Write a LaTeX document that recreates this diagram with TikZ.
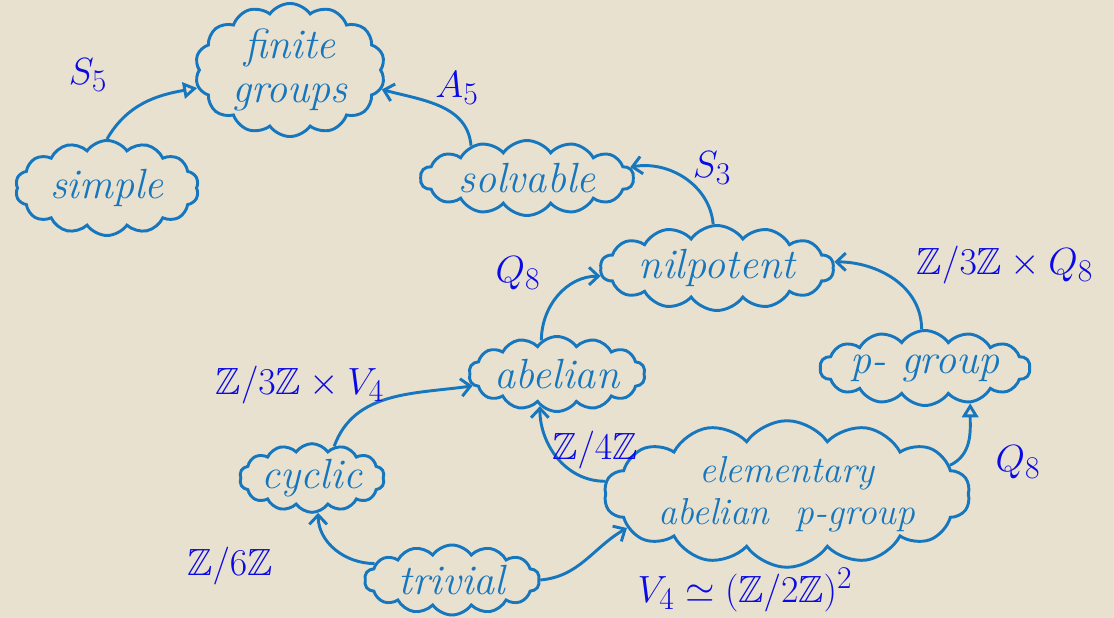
\documentclass[tikz,border=0pt]{standalone}
\usepackage{amsmath,amssymb}
\usepackage{fontspec}
\usetikzlibrary{shapes.symbols,arrows.meta}
\definecolor{bgc}{RGB}{233,225,207}
\definecolor{cloudblue}{RGB}{22,118,190}
\definecolor{labblue}{RGB}{10,10,230}
\newcommand{\biglab}[1]{\scalebox{1.3}{$#1$}}
\tikzset{
  grp/.style={cloud, cloud puffs=14, cloud puff arc=110, cloud ignores aspect,
    draw=cloudblue, line width=2.5pt, text=cloudblue, align=center, inner sep=0pt,
    font=\fontsize{36}{38}\selectfont\itshape},
  lab/.style={text=labblue, font=\fontsize{24.88}{28}\selectfont},
  conn/.style={draw=cloudblue, line width=2.5pt, -{Straight Barb[length=8pt,width=15pt]}},
  connopen/.style={draw=cloudblue, line width=2.5pt, -{Triangle[open,length=12pt,width=14pt]}}
}
\begin{document}
\begin{tikzpicture}[x=0.03cm,y=-0.03cm]
\fill[bgc] (0,0) rectangle (1114,618);
\useasboundingbox (0,0) rectangle (1114,618);
% groups
\node[grp, minimum width=5.7cm, minimum height=3.5cm] (finite) at (290,70) {finite\\groups};
\node[grp, minimum width=5.5cm, minimum height=2.85cm] (simple) at (107,188) {simple};
\node[grp, minimum width=6.4cm, minimum height=2.25cm] (solvable) at (527,178) {solvable};
\node[grp, minimum width=7.0cm, minimum height=2.55cm] (nilpotent) at (717,268) {nilpotent};
\node[grp, minimum width=4.95cm, minimum height=2.25cm] (abelian) at (557,374) {abelian};
\node[grp, minimum width=6.3cm, minimum height=2.25cm] (pgroup) at (925,368) {p- group};
\node[grp, minimum width=4.35cm, minimum height=2.0cm] (cyclic) at (312,478) {cyclic};
\node[grp, minimum width=10.3cm, minimum height=3.9cm, font=\fontsize{32}{36}\selectfont\itshape] (elem) at (787,494) {elementary\\abelian\ \ p-group};
\node[grp, minimum width=5.25cm, minimum height=2.1cm] (trivial) at (452,580) {trivial};
% connectors
\draw[connopen] (simple.north) to[out=60,in=190] (finite.191);
\draw[conn] (solvable.150) to[out=95,in=-15] (finite.-12);
\draw[conn] (nilpotent.95) to[out=95,in=10] (solvable.6);
\draw[conn] (abelian.115) to[out=90,in=180] (nilpotent.184);
\draw[conn] (pgroup.95) to[out=90,in=0] (nilpotent.3);
\draw[conn] (cyclic.55) to[out=70,in=188] (abelian.188);
\draw[conn] (elem.176) to[out=180,in=-90] (abelian.-118);
\draw[connopen] (elem.10) to[out=25,in=-90] (pgroup.-38);
\draw[conn] (trivial.168) to[out=180,in=-90] (cyclic.-80);
\draw[conn] (trivial.0) to[out=5,in=210] (elem.192);
% labels
\node[lab] (lS5) at (88,75) {\biglab{S_5}};
\node[lab] (lA5) at (457,88) {\biglab{A_5}};
\node[lab] (lS3) at (712,168) {\biglab{S_3}};
\node[lab] (lQ8a) at (518,273) {\biglab{Q_8}};
\node[lab] (lZQ) at (1005,265) {\biglab{\mathbb{Z}/3\mathbb{Z}\times Q_8}};
\node[lab] (lZV) at (300,385) {\biglab{\mathbb{Z}/3\mathbb{Z}\times V_4}};
\node[lab] (lZ4) at (595,450) {\biglab{\mathbb{Z}/4\mathbb{Z}}};
\node[lab] (lQ8b) at (1018,462) {\biglab{Q_8}};
\node[lab] (lZ6) at (230,566) {\biglab{\mathbb{Z}/6\mathbb{Z}}};
\node[lab] (lV4) at (745,590) {\biglab{V_4\simeq(\mathbb{Z}/2\mathbb{Z})^2}};
\end{tikzpicture}
\end{document}
